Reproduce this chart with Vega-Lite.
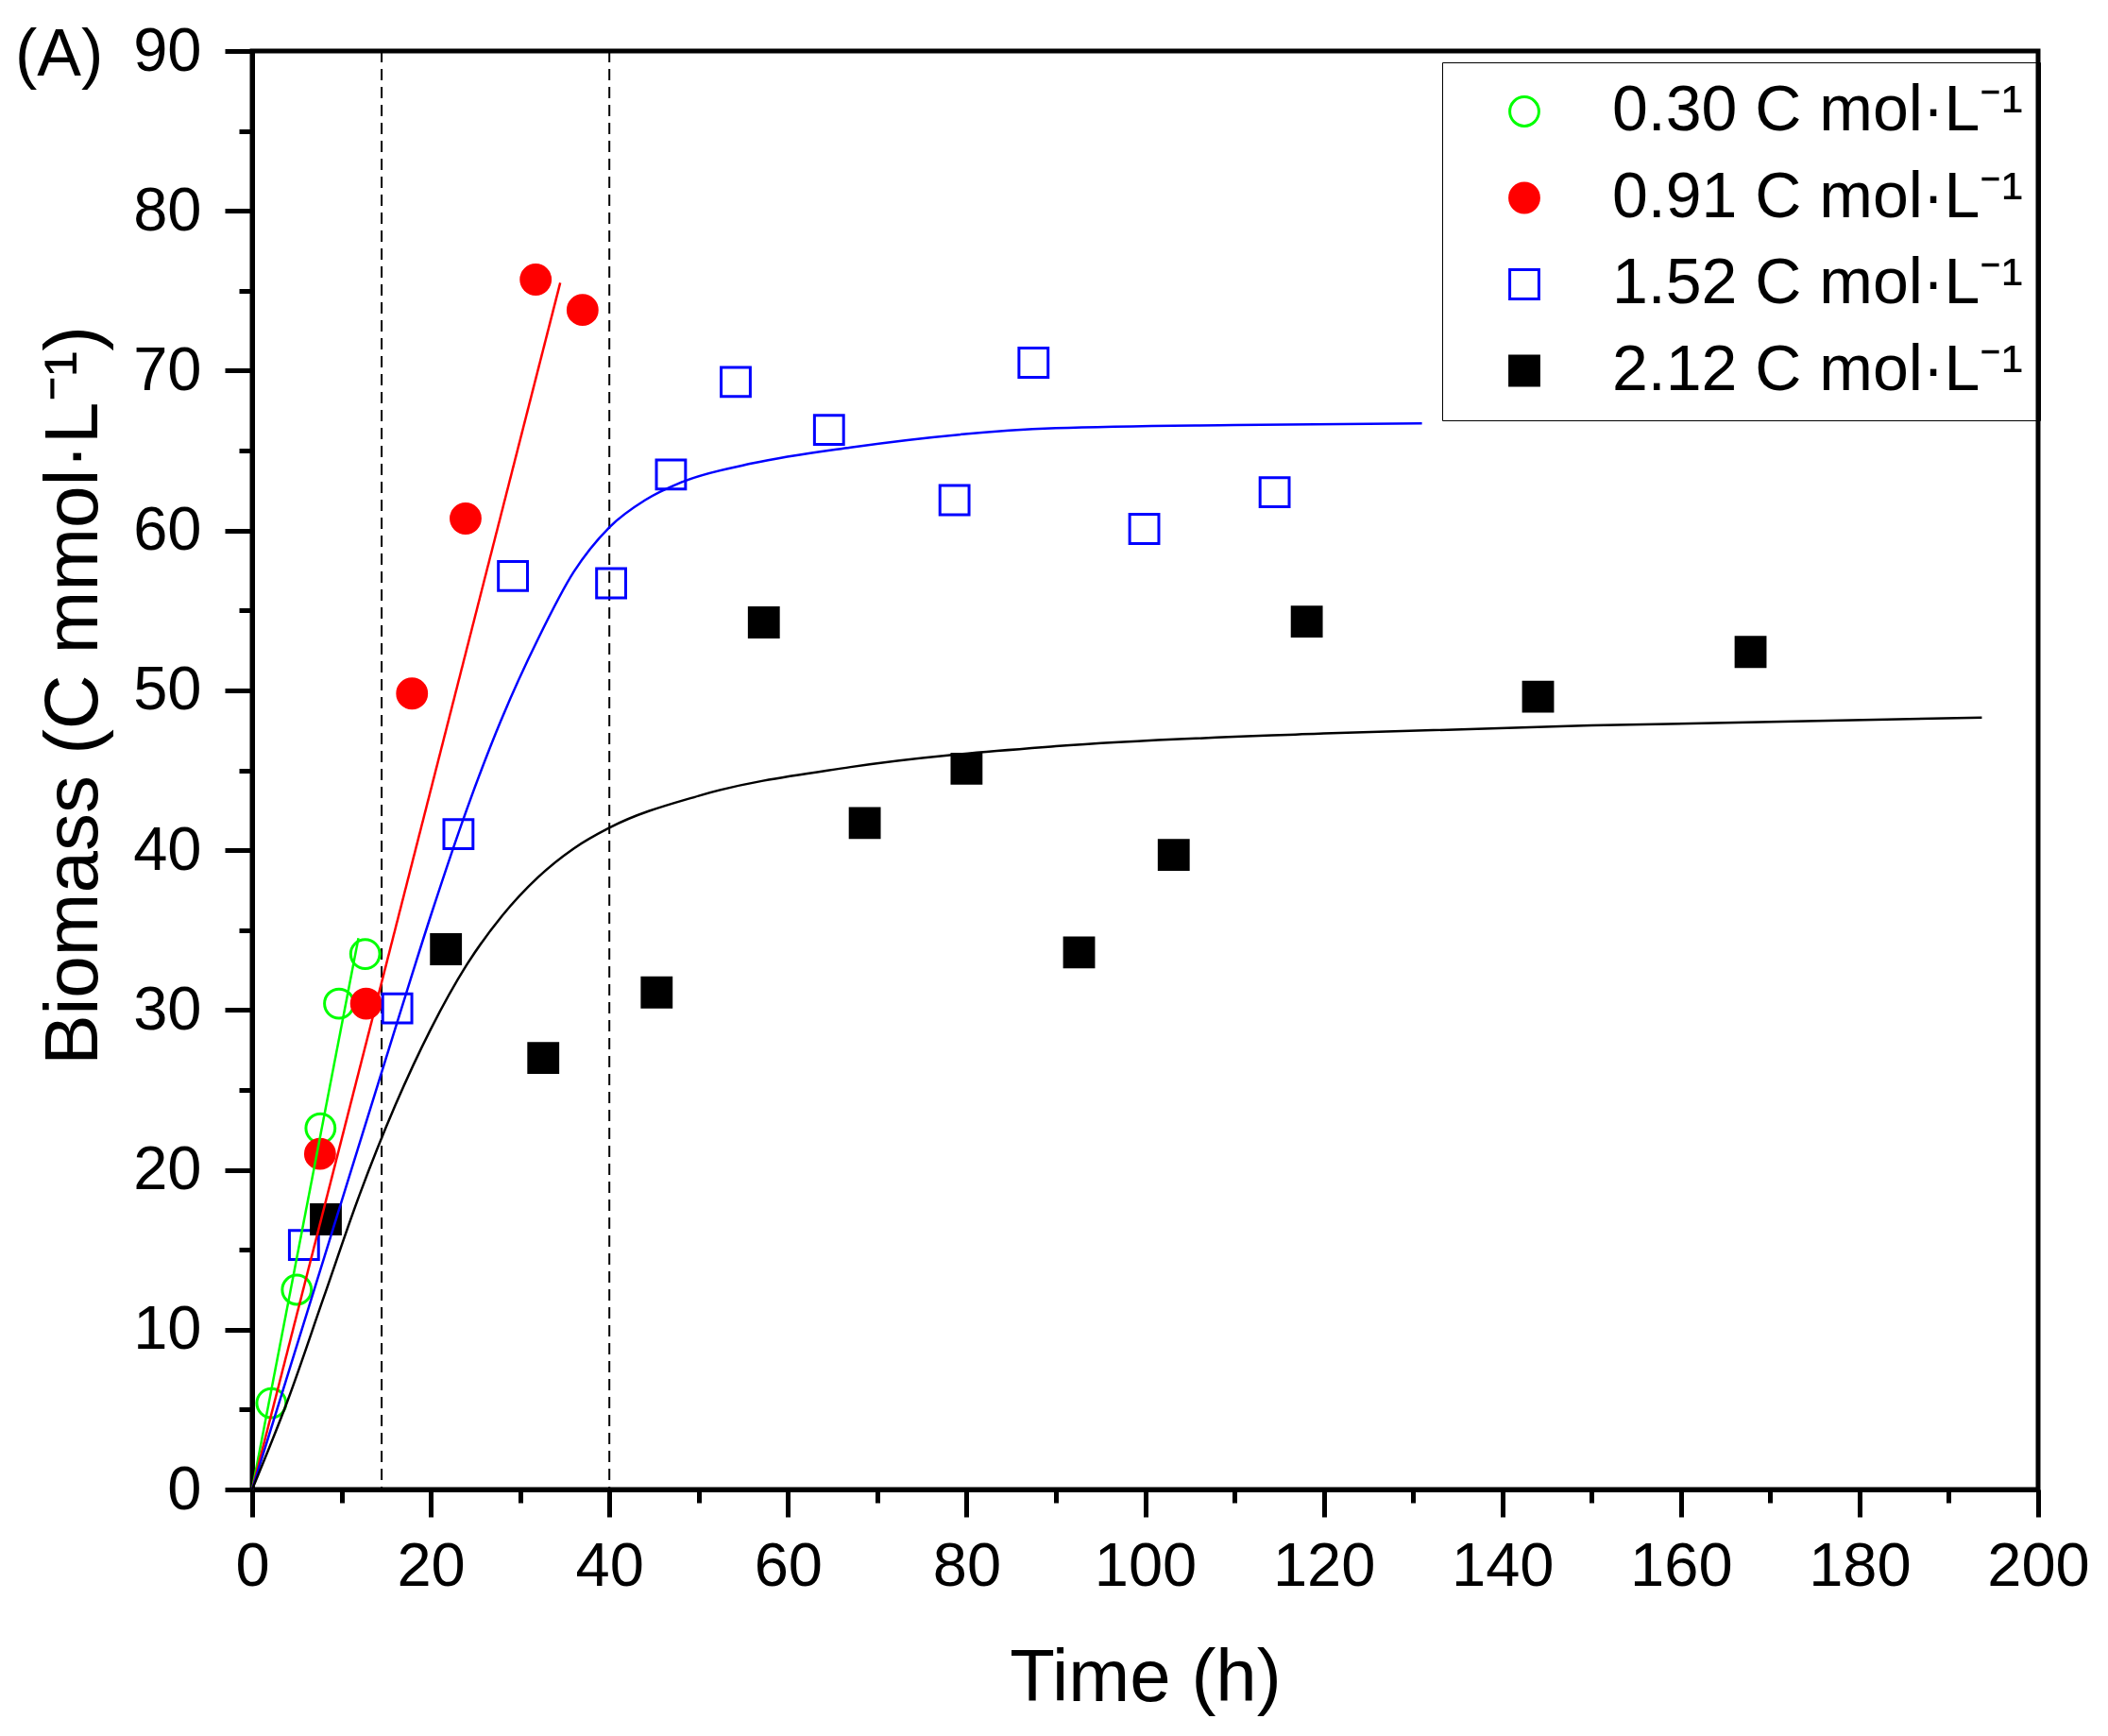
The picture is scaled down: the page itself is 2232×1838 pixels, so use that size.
{
  "$schema": "https://vega.github.io/schema/vega-lite/v6.json",
  "width": 1891,
  "height": 1523,
  "autosize": {"type": "none"},
  "padding": {"left": 267, "top": 54, "right": 74, "bottom": 261},
  "background": "white",
  "title": {"text": "(A)", "anchor": "start", "frame": "group", "fontSize": 70, "font": "Liberation Sans", "fontWeight": "normal", "color": "black", "offset": -128, "dx": -251, "baseline": "alphabetic"},
  "config": {
    "view": {"stroke": "black", "strokeWidth": 5},
    "axis": {"grid": false, "domainColor": "black", "tickColor": "black", "labelColor": "black", "titleColor": "black", "labelFont": "Liberation Sans", "titleFont": "Liberation Sans", "titleFontWeight": "normal"}
  },
  "datasets": {
    "dashes": [{"time": 14.5}, {"time": 40}],
    "points": [
      {"series": "0.30 C mol·L⁻¹", "time": 2.15, "biomass": 5.4},
      {"series": "0.30 C mol·L⁻¹", "time": 5.0, "biomass": 12.5},
      {"series": "0.30 C mol·L⁻¹", "time": 7.65, "biomass": 22.6},
      {"series": "0.30 C mol·L⁻¹", "time": 9.73, "biomass": 30.4},
      {"series": "0.30 C mol·L⁻¹", "time": 12.66, "biomass": 33.5},
      {"series": "0.91 C mol·L⁻¹", "time": 7.6, "biomass": 21.0},
      {"series": "0.91 C mol·L⁻¹", "time": 12.76, "biomass": 30.4},
      {"series": "0.91 C mol·L⁻¹", "time": 17.9, "biomass": 49.8},
      {"series": "0.91 C mol·L⁻¹", "time": 23.9, "biomass": 60.75},
      {"series": "0.91 C mol·L⁻¹", "time": 31.75, "biomass": 75.7},
      {"series": "0.91 C mol·L⁻¹", "time": 37.0, "biomass": 73.8},
      {"series": "1.52 C mol·L⁻¹", "time": 5.8, "biomass": 15.3},
      {"series": "1.52 C mol·L⁻¹", "time": 16.25, "biomass": 30.1},
      {"series": "1.52 C mol·L⁻¹", "time": 23.1, "biomass": 41.0},
      {"series": "1.52 C mol·L⁻¹", "time": 29.2, "biomass": 57.15},
      {"series": "1.52 C mol·L⁻¹", "time": 40.2, "biomass": 56.7},
      {"series": "1.52 C mol·L⁻¹", "time": 46.9, "biomass": 63.5},
      {"series": "1.52 C mol·L⁻¹", "time": 54.15, "biomass": 69.3},
      {"series": "1.52 C mol·L⁻¹", "time": 64.6, "biomass": 66.3},
      {"series": "1.52 C mol·L⁻¹", "time": 78.65, "biomass": 61.9},
      {"series": "1.52 C mol·L⁻¹", "time": 87.5, "biomass": 70.5},
      {"series": "1.52 C mol·L⁻¹", "time": 99.9, "biomass": 60.1},
      {"series": "1.52 C mol·L⁻¹", "time": 114.5, "biomass": 62.4},
      {"series": "2.12 C mol·L⁻¹", "time": 8.25, "biomass": 16.9},
      {"series": "2.12 C mol·L⁻¹", "time": 21.7, "biomass": 33.8},
      {"series": "2.12 C mol·L⁻¹", "time": 32.6, "biomass": 27.0},
      {"series": "2.12 C mol·L⁻¹", "time": 45.3, "biomass": 31.1},
      {"series": "2.12 C mol·L⁻¹", "time": 57.3, "biomass": 54.25},
      {"series": "2.12 C mol·L⁻¹", "time": 68.6, "biomass": 41.7},
      {"series": "2.12 C mol·L⁻¹", "time": 80.0, "biomass": 45.1},
      {"series": "2.12 C mol·L⁻¹", "time": 92.6, "biomass": 33.6},
      {"series": "2.12 C mol·L⁻¹", "time": 103.2, "biomass": 39.7},
      {"series": "2.12 C mol·L⁻¹", "time": 118.1, "biomass": 54.3},
      {"series": "2.12 C mol·L⁻¹", "time": 144.0, "biomass": 49.6},
      {"series": "2.12 C mol·L⁻¹", "time": 167.8, "biomass": 52.4}
    ],
    "fits": [
      {"series": "0.30", "time": 0, "biomass": 0},
      {"series": "0.30", "time": 11.9, "biomass": 34.5},
      {"series": "0.91", "time": 0, "biomass": 0},
      {"series": "0.91", "time": 34.5, "biomass": 75.5},
      {"series": "1.52", "time": 0, "biomass": 0},
      {"series": "1.52", "time": 8, "biomass": 14.4},
      {"series": "1.52", "time": 16, "biomass": 28.8},
      {"series": "1.52", "time": 20, "biomass": 35.9},
      {"series": "1.52", "time": 24, "biomass": 42.5},
      {"series": "1.52", "time": 28, "biomass": 48.3},
      {"series": "1.52", "time": 32, "biomass": 53.2},
      {"series": "1.52", "time": 36, "biomass": 57.4},
      {"series": "1.52", "time": 40, "biomass": 60.2},
      {"series": "1.52", "time": 44, "biomass": 61.9},
      {"series": "1.52", "time": 48, "biomass": 63.0},
      {"series": "1.52", "time": 56, "biomass": 64.2},
      {"series": "1.52", "time": 67, "biomass": 65.2},
      {"series": "1.52", "time": 90, "biomass": 66.4},
      {"series": "1.52", "time": 110, "biomass": 66.6},
      {"series": "1.52", "time": 131, "biomass": 66.7},
      {"series": "2.12", "time": 0, "biomass": 0},
      {"series": "2.12", "time": 4, "biomass": 5.6},
      {"series": "2.12", "time": 8, "biomass": 12.0},
      {"series": "2.12", "time": 12, "biomass": 18.4},
      {"series": "2.12", "time": 16, "biomass": 24.0},
      {"series": "2.12", "time": 20, "biomass": 28.8},
      {"series": "2.12", "time": 24, "biomass": 32.8},
      {"series": "2.12", "time": 28, "biomass": 35.9},
      {"series": "2.12", "time": 32, "biomass": 38.3},
      {"series": "2.12", "time": 36, "biomass": 40.1},
      {"series": "2.12", "time": 40, "biomass": 41.4},
      {"series": "2.12", "time": 50, "biomass": 43.4},
      {"series": "2.12", "time": 67, "biomass": 45.2},
      {"series": "2.12", "time": 90, "biomass": 46.5},
      {"series": "2.12", "time": 120, "biomass": 47.3},
      {"series": "2.12", "time": 150, "biomass": 47.8},
      {"series": "2.12", "time": 193.7, "biomass": 48.3}
    ]
  },
  "layer": [
    {
      "data": {"name": "dashes"},
      "mark": {"type": "rule", "strokeDash": [12, 7], "strokeWidth": 2, "color": "black"},
      "encoding": {
        "x": {"field": "time", "type": "quantitative", "scale": {"domain": [0, 200], "nice": false},
          "axis": {"orient": "bottom", "values": [10, 30, 50, 70, 90, 110, 130, 150, 170, 190], "labels": false, "domain": false, "ticks": true, "tickSize": 14, "tickWidth": 5, "title": null, "grid": false}}
      }
    },
    {
      "data": {"name": "points"},
      "mark": {"type": "point", "size": 950, "strokeWidth": 3, "opacity": 1},
      "encoding": {
        "x": {"field": "time", "type": "quantitative", "scale": {"domain": [0, 200], "nice": false},
          "axis": {"orient": "bottom", "values": [0, 20, 40, 60, 80, 100, 120, 140, 160, 180, 200], "tickSize": 29, "tickWidth": 5, "domainWidth": 5, "labelFontSize": 65, "labelPadding": 72, "labelBaseline": "alphabetic", "labelFlush": false, "labelOverlap": false, "title": "Time (h)", "titleFontSize": 78, "titleY": 223, "titleBaseline": "alphabetic"}},
        "y": {"field": "biomass", "type": "quantitative", "scale": {"domain": [0, 90], "nice": false},
          "axis": {"orient": "left", "values": [0, 10, 20, 30, 40, 50, 60, 70, 80, 90], "tickSize": 29, "tickWidth": 5, "domainWidth": 5, "labelFontSize": 65, "labelPadding": 25, "labelFlush": false, "labelOverlap": false, "title": "Biomass (C mmol·L⁻¹)", "titleFontSize": 80, "titleX": -165, "titleY": 682, "titleBaseline": "alphabetic", "titleAngle": 270}},
        "shape": {"field": "series", "type": "nominal",
          "scale": {"domain": ["0.30 C mol·L⁻¹", "0.91 C mol·L⁻¹", "1.52 C mol·L⁻¹", "2.12 C mol·L⁻¹"], "range": ["circle", "circle", "square", "square"]},
          "legend": {"title": null, "orient": "none", "legendX": 1260, "legendY": 12, "strokeColor": "black", "padding": 18, "symbolOffset": 35, "labelOffset": 59, "labelFontSize": 68, "labelFont": "Liberation Sans", "labelColor": "black", "rowPadding": 23.5, "symbolSize": 950, "symbolStrokeWidth": 3, "labelLimit": 1000}},
        "fill": {"field": "series", "type": "nominal",
          "scale": {"domain": ["0.30 C mol·L⁻¹", "0.91 C mol·L⁻¹", "1.52 C mol·L⁻¹", "2.12 C mol·L⁻¹"], "range": ["transparent", "#ff0000", "transparent", "#000000"]},
          "legend": {"title": null, "orient": "none", "legendX": 1260, "legendY": 12, "strokeColor": "black", "padding": 18, "symbolOffset": 35, "labelOffset": 59, "labelFontSize": 68, "labelFont": "Liberation Sans", "labelColor": "black", "rowPadding": 23.5, "symbolSize": 950, "symbolStrokeWidth": 3, "labelLimit": 1000}},
        "stroke": {"field": "series", "type": "nominal",
          "scale": {"domain": ["0.30 C mol·L⁻¹", "0.91 C mol·L⁻¹", "1.52 C mol·L⁻¹", "2.12 C mol·L⁻¹"], "range": ["#00ff00", "#ff0000", "#0000ff", "#000000"]},
          "legend": {"title": null, "orient": "none", "legendX": 1260, "legendY": 12, "strokeColor": "black", "padding": 18, "symbolOffset": 35, "labelOffset": 59, "labelFontSize": 68, "labelFont": "Liberation Sans", "labelColor": "black", "rowPadding": 23.5, "symbolSize": 950, "symbolStrokeWidth": 3, "labelLimit": 1000}}
      }
    },
    {
      "data": {"name": "fits"},
      "mark": {"type": "line", "strokeWidth": 2.5, "interpolate": "monotone"},
      "encoding": {
        "x": {"field": "time", "type": "quantitative", "scale": {"domain": [0, 200], "nice": false}, "axis": null},
        "y": {"field": "biomass", "type": "quantitative", "scale": {"domain": [0, 90], "nice": false},
          "axis": {"orient": "left", "values": [5, 15, 25, 35, 45, 55, 65, 75, 85], "labels": false, "domain": false, "ticks": true, "tickSize": 14, "tickWidth": 5, "title": null, "grid": false}},
        "color": {"field": "series", "type": "nominal",
          "scale": {"domain": ["0.30", "0.91", "1.52", "2.12"], "range": ["#00ff00", "#ff0000", "#0000ff", "#000000"]},
          "legend": null}
      }
    }
  ],
  "resolve": {"axis": {"x": "independent", "y": "independent"}}
}
